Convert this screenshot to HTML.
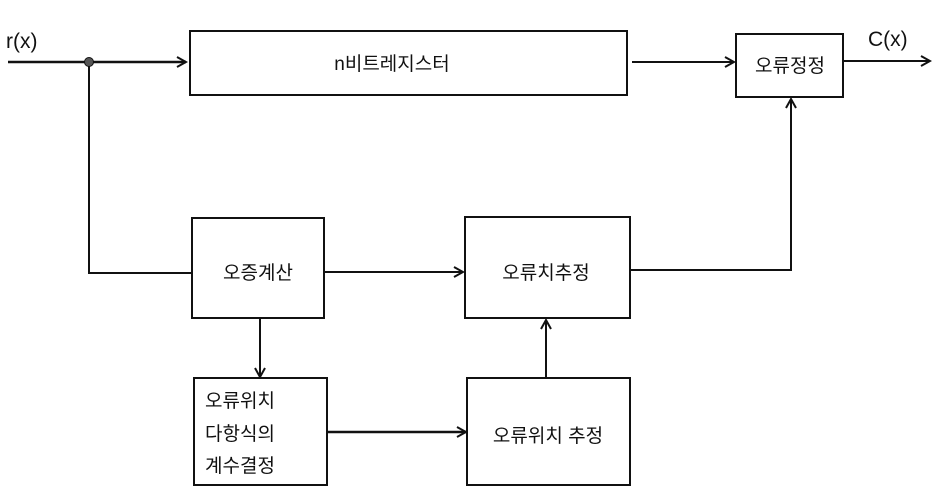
<!DOCTYPE html>
<html><head><meta charset="utf-8"><style>
body{margin:0;background:#fff}
svg text{font-family:"Liberation Sans","Noto Sans CJK KR",sans-serif;fill:#111}
</style></head><body>
<svg width="934" height="494" xmlns="http://www.w3.org/2000/svg">
<defs><marker id="a" markerWidth="12" markerHeight="12" refX="10" refY="6" orient="auto" markerUnits="userSpaceOnUse"><path d="M1,1 L10,6 L1,11" fill="none" stroke="#111" stroke-width="2"/></marker></defs>
<g stroke="#111" stroke-width="2" fill="none">
<rect x="190" y="31" width="437" height="64"/>
<rect x="736" y="34" width="107" height="63"/>
<rect x="192" y="218" width="132" height="100"/>
<rect x="465" y="217" width="165" height="101"/>
<rect x="194" y="378" width="133" height="107"/>
<rect x="467" y="378" width="163" height="107"/>
<line x1="8" y1="62" x2="186" y2="62" marker-end="url(#a)" stroke-width="2.5"/>
<line x1="632" y1="62" x2="734" y2="62" marker-end="url(#a)"/>
<line x1="843" y1="61" x2="930" y2="61" marker-end="url(#a)"/>
<polyline points="89,62 89,273 192,273"/>
<line x1="324" y1="272" x2="463" y2="272" marker-end="url(#a)"/>
<polyline points="630,270 791,270 791,99" marker-end="url(#a)"/>
<line x1="260" y1="318" x2="260" y2="377" marker-end="url(#a)"/>
<line x1="327" y1="432" x2="466" y2="432" marker-end="url(#a)" stroke-width="2.5"/>
<line x1="546" y1="378" x2="546" y2="320" marker-end="url(#a)"/>
</g>
<circle cx="89" cy="62" r="4.5" fill="#555" stroke="#111"/>
<text x="6" y="48" font-size="21">r(x)</text>
<text x="868" y="46" font-size="21">C(x)</text>
<g font-size="19">
<text x="392" y="70" text-anchor="middle">n비트레지스터</text>
<text x="790" y="72" text-anchor="middle">오류정정</text>
<text x="258" y="279" text-anchor="middle">오증계산</text>
<text x="546" y="279" text-anchor="middle">오류치추정</text>
<text x="205" y="407">오류위치</text>
<text x="205" y="440">다항식의</text>
<text x="205" y="472">계수결정</text>
<text x="548" y="442" text-anchor="middle">오류위치 추정</text>
</g>
</svg>
</body></html>
